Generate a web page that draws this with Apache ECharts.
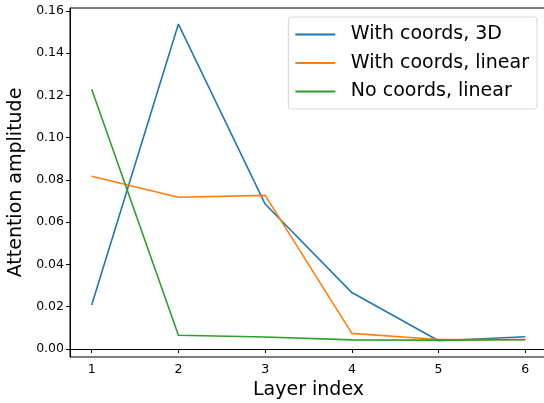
<!DOCTYPE html>
<html><head><meta charset="utf-8">
<script src="https://cdn.jsdelivr.net/npm/echarts@6/dist/echarts.min.js"></script>
<style>html,body{margin:0;padding:0;background:#fff}#c{width:544px;height:403px}</style>
</head><body><div id="c"></div>
<script>
const layers = [1, 2, 3, 4, 5, 6];
const coords3D = [0.0208, 0.1538, 0.0686, 0.0267, 0.0039, 0.0058];
const coordsLinear = [0.0818, 0.0718, 0.0727, 0.0074, 0.0045, 0.0045];
const noCoordsLinear = [0.1229, 0.0065, 0.0057, 0.0043, 0.0042, 0.0044];
const yTicks = [0, 0.02, 0.04, 0.06, 0.08, 0.10, 0.12, 0.14, 0.16];
const seriesNames = ['With coords, 3D', 'With coords, linear', 'No coords, linear'];
const colors = ['#1f77b4', '#ff7f0e', '#2ca02c'];
const font = 'DejaVu Sans';
const chart = echarts.init(document.getElementById('c'), null, {renderer: 'canvas'});
const pairs = arr => layers.map((x, i) => [x, arr[i]]);
const allData = [coords3D, coordsLinear, noCoordsLinear];
chart.setOption({
  animation: false,
  grid: {left: 70, right: -3, top: 8, bottom: 46, show: true, borderColor: '#000', borderWidth: 1,
         containLabel: false, outerBoundsMode: 'none'},
  legend: {
    right: 7, top: 17, orient: 'vertical',
    data: seriesNames,
    icon: 'path://M0,0 L40,0 L40,2 L0,2 Z',
    itemWidth: 41, itemHeight: 2, itemGap: 9.5,
    padding: [8, 8, 8, 7],
    borderColor: '#d5d5d5', borderWidth: 1, borderRadius: 3,
    backgroundColor: 'rgba(255,255,255,0.8)',
    textStyle: {fontFamily: font, fontSize: 19, color: '#000', padding: [0, 0, 0, 10], lineHeight: 19}
  },
  xAxis: {
    type: 'value', min: 0.75, max: 6.25,
    name: 'Layer index', nameLocation: 'middle', nameGap: 17,
    nameTextStyle: {fontFamily: font, fontSize: 19, color: '#000'},
    axisLine: {show: true, lineStyle: {color: '#000', width: 1}},
    axisTick: {show: true, length: 4, lineStyle: {color: '#000'}, customValues: layers},
    axisLabel: {fontFamily: font, fontSize: 12.5, color: '#000', margin: 6, customValues: layers, formatter: v => String(v)},
    splitLine: {show: false}
  },
  yAxis: {
    type: 'value', min: -0.0038, max: 0.1614,
    name: 'Attention amplitude', nameLocation: 'middle', nameGap: 36,
    nameTextStyle: {fontFamily: font, fontSize: 19, color: '#000'},
    axisLine: {show: true, lineStyle: {color: '#000', width: 1}},
    axisTick: {show: true, length: 4, lineStyle: {color: '#000'}, customValues: yTicks},
    axisLabel: {fontFamily: font, fontSize: 12.5, color: '#000', margin: 6, customValues: yTicks, formatter: v => v.toFixed(2)},
    splitLine: {show: false}
  },
  series: seriesNames.map((n, i) => ({
    name: n, type: 'line', data: pairs(allData[i]),
    showSymbol: false, symbol: 'none',
    lineStyle: {color: colors[i], width: 1.6},
    itemStyle: {color: colors[i]}
  }))
});
</script></body></html>
